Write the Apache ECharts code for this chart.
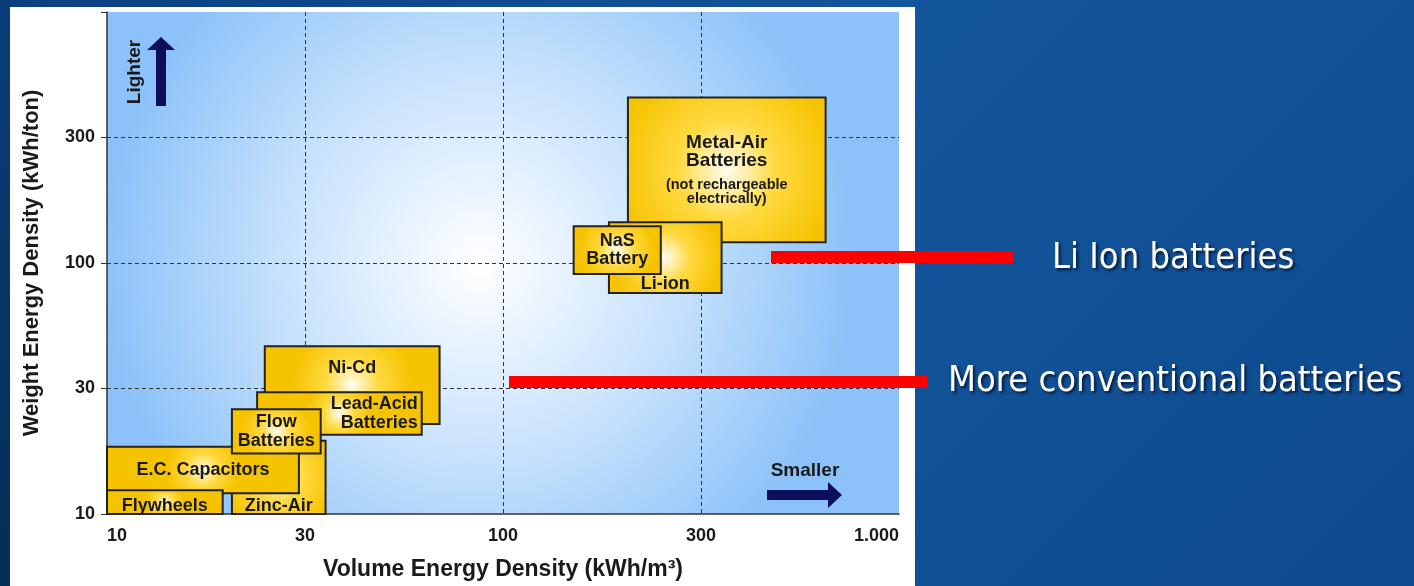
<!DOCTYPE html>
<html>
<head>
<meta charset="utf-8">
<script src="https://cdn.jsdelivr.net/npm/echarts@6/dist/echarts.min.js"></script>
<style>
html, body { margin: 0; padding: 0; }
body { width: 1414px; height: 586px; position: relative; overflow: hidden;
  background: linear-gradient(135deg, #0b3f80 0%, #14569c 45%, #0e4a8e 100%); }
#strip { position: absolute; left: 0; top: 0; width: 10px; height: 586px; background: linear-gradient(#0a3d78, #062d55); }
#panel { position: absolute; left: 10px; top: 7px; width: 905px; height: 579px; background: #fff; }
#chart { position: absolute; left: 0; top: 0; width: 1414px; height: 586px; }
</style>
</head>
<body>
<div id="strip"></div>
<div id="panel"></div>
<div id="chart"></div>
<script>
// tick values on both axes (the source spaces them evenly)
var xTicks = [10, 30, 100, 300, 1000];
var yTicks = [10, 30, 100, 300, 1000];
var xTickLabels = ['10', '30', '100', '300', '1.000'];
var yTickLabels = ['10', '30', '100', '300', ''];

// storage technologies: volume energy density (kWh/m3) and weight energy density (kWh/ton) ranges
var techNames = ['Ni-Cd', 'Lead-Acid\nBatteries', 'Zinc-Air', 'E.C. Capacitors', 'Flow\nBatteries', 'Flywheels', 'Metal-Air\nBatteries', 'Li-ion', 'NaS\nBattery'];
var techNotes = ['', '', '', '', '', '', '(not rechargeable\nelectrically)', '', ''];
var volMin = [24, 23, 20, 10, 20, 10, 200, 180, 148];
var volMax = [68, 61, 34, 29, 33, 19, 640, 340, 240];
var wtMin = [22, 20, 10, 12, 17, 10, 120, 75, 90];
var wtMax = [45, 29, 19, 18, 25, 12.3, 440, 143, 138];

// where each label sits in its box
var labelPos = ['insideTop', 'insideRight', 'insideBottom', 'inside', 'inside', 'insideBottom', 'inside', 'insideBottom', 'inside'];
var labelDist = [14, 5, 0, 0, 0, 0, 0, 1, 0];

// axis position: ticks evenly spaced, log inside each step
function toAxis(v, ticks) {
  for (var k = 0; k < ticks.length - 1; k++) {
    if (v <= ticks[k + 1] || k === ticks.length - 2) {
      return k + Math.log(v / ticks[k]) / Math.log(ticks[k + 1] / ticks[k]);
    }
  }
}

var boxData = techNames.map(function (n, i) {
  return [toAxis(volMin[i], xTicks), toAxis(volMax[i], xTicks), toAxis(wtMin[i], yTicks), toAxis(wtMax[i], yTicks)];
});

var FONT = 'Liberation Sans, Arial, sans-serif';
var INK = '#1a1a1a';
var goldFill = {
  type: 'radial', x: 0.5, y: 0.5, r: 0.75,
  colorStops: [
    { offset: 0, color: '#fffdf2' },
    { offset: 0.45, color: '#ffd940' },
    { offset: 1, color: '#f6c300' }
  ]
};

var chart = echarts.init(document.getElementById('chart'));
chart.setOption({
  animation: false,
  grid: {
    left: 107, right: 515, top: 12, bottom: 67,
    show: true, borderWidth: 0,
    backgroundColor: {
      type: 'radial', x: 0.47, y: 0.5, r: 0.75,
      colorStops: [
        { offset: 0, color: '#ffffff' },
        { offset: 0.55, color: '#c4e0fc' },
        { offset: 1, color: '#8cc2f9' }
      ]
    }
  },
  xAxis: {
    type: 'value', min: 0, max: 4, interval: 1,
    name: 'Volume Energy Density (kWh/m³)',
    nameLocation: 'middle', nameGap: 44,
    nameTextStyle: { fontFamily: FONT, fontWeight: 'bold', fontSize: 23, color: INK },
    axisLine: { lineStyle: { color: '#333', width: 1.5 } },
    axisTick: { show: false },
    axisLabel: {
      margin: 13, fontFamily: FONT, fontWeight: 'bold', fontSize: 18, color: INK,
      alignMinLabel: 'left', alignMaxLabel: 'right',
      formatter: function (v) { return xTickLabels[Math.round(v)]; }
    },
    splitLine: { show: true, showMinLine: false, showMaxLine: false, lineStyle: { color: '#333', type: [4, 3], width: 1 } }
  },
  yAxis: {
    type: 'value', min: 0, max: 4, interval: 1,
    name: 'Weight Energy Density (kWh/ton)',
    nameLocation: 'middle', nameGap: 64,
    nameTextStyle: { fontFamily: FONT, fontWeight: 'bold', fontSize: 22, color: INK },
    axisLine: { show: true, lineStyle: { color: '#333', width: 1.5 } },
    axisTick: { show: true, length: 6, lineStyle: { color: '#333' } },
    axisLabel: {
      margin: 12, fontFamily: FONT, fontWeight: 'bold', fontSize: 18, color: INK,
      formatter: function (v) { return yTickLabels[Math.round(v)]; }
    },
    splitLine: { show: true, showMinLine: false, showMaxLine: false, lineStyle: { color: '#333', type: [4, 3], width: 1 } }
  },
  series: [{
    type: 'custom',
    data: boxData,
    encode: { x: [0, 1], y: [2, 3] },
    renderItem: function (params, api) {
      var i = params.dataIndex;
      var p0 = api.coord([api.value(0), api.value(3)]);
      var p1 = api.coord([api.value(1), api.value(2)]);
      var txt = techNotes[i]
        ? '{t|' + techNames[i].split('\n').join('}\n{t|') + '}\n{g|}\n{s|' + techNotes[i].split('\n').join('}\n{s|') + '}'
        : techNames[i];
      return {
        type: 'rect',
        shape: { x: p0[0], y: p0[1], width: p1[0] - p0[0], height: p1[1] - p0[1] },
        style: { fill: goldFill, stroke: '#222', lineWidth: 2 },
        textContent: {
          style: {
            text: txt,
            fontFamily: FONT, fontWeight: 'bold', fontSize: 18, lineHeight: 18.5, fill: INK,
            rich: {
              t: { fontFamily: FONT, fontWeight: 'bold', fontSize: 19, lineHeight: 18, fill: INK },
              g: { lineHeight: 8 },
              s: { fontFamily: FONT, fontWeight: 'bold', fontSize: 14.5, lineHeight: 14, fill: INK }
            }
          }
        },
        textConfig: { position: labelPos[i], distance: labelDist[i] }
      };
    }
  }],
  graphic: [
    { type: 'text', x: 135, y: 72, rotation: Math.PI / 2,
      style: { text: 'Lighter', font: 'bold 19px ' + FONT, fill: INK, align: 'center', verticalAlign: 'middle' } },
    { type: 'polygon', shape: { points: [[156, 106], [166, 106], [166, 50], [175, 50], [161, 37], [147, 50], [156, 50]] },
      style: { fill: '#0b0f5c' } },
    { type: 'text', x: 805, y: 471,
      style: { text: 'Smaller', font: 'bold 19px ' + FONT, fill: INK, align: 'center', verticalAlign: 'middle' } },
    { type: 'polygon', shape: { points: [[767, 490], [828, 490], [828, 482], [842, 495], [828, 508], [828, 500], [767, 500]] },
      style: { fill: '#0b0f5c' } },
    { type: 'rect', shape: { x: 771, y: 251, width: 242, height: 12 }, style: { fill: '#ff0000' } },
    { type: 'rect', shape: { x: 509, y: 376, width: 418, height: 12 }, style: { fill: '#ff0000' } },
    { type: 'text', x: 1052, y: 259,
      style: { text: 'Li Ion batteries', font: '36px "DejaVu Sans Condensed", "DejaVu Sans", sans-serif', fill: '#ffffff',
        verticalAlign: 'middle', textShadowColor: 'rgba(0,0,20,0.7)', textShadowOffsetX: 2, textShadowOffsetY: 2, textShadowBlur: 3 } },
    { type: 'text', x: 948, y: 382,
      style: { text: 'More conventional batteries', font: '36px "DejaVu Sans Condensed", "DejaVu Sans", sans-serif', fill: '#ffffff',
        verticalAlign: 'middle', textShadowColor: 'rgba(0,0,20,0.7)', textShadowOffsetX: 2, textShadowOffsetY: 2, textShadowBlur: 3 } }
  ]
});
</script>
</body>
</html>
